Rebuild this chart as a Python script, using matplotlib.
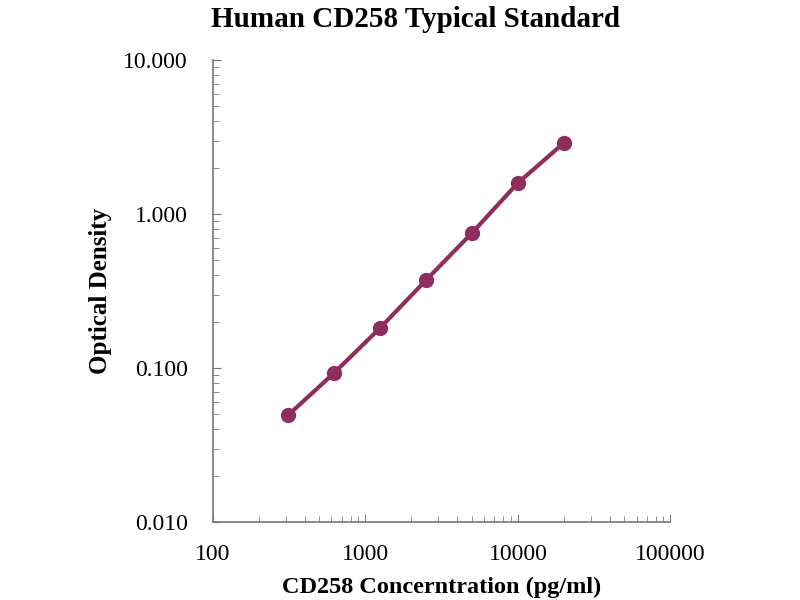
import matplotlib
matplotlib.use("Agg")
import matplotlib.pyplot as plt
from matplotlib.ticker import FixedLocator, FixedFormatter, LogLocator, NullFormatter

plt.rcParams['font.family'] = ['Liberation Serif', 'DejaVu Serif']

# standard curve data
conc = [312.5, 625, 1250, 2500, 5000, 10000, 20000]
od = [0.0495, 0.093, 0.182, 0.372, 0.753, 1.59, 2.89]

x_ticks = [100, 1000, 10000, 100000]
x_labels = ["100", "1000", "10000", "100000"]
y_ticks = [0.01, 0.1, 1, 10]
y_labels = ["0.010", "0.100", "1.000", "10.000"]

col = "#8e2d5e"

fig = plt.figure(figsize=(8, 6), dpi=100)
ax = fig.add_axes([0.266, 0.13, 0.572, 0.77])

ax.plot(conc, od, "-o", color=col, lw=3, ms=10, mec=col, mfc=col)

ax.set_xscale("log")
ax.set_yscale("log")
ax.set_xlim(100, 100000)
ax.set_ylim(0.01, 10)

ax.xaxis.set_major_locator(FixedLocator(x_ticks))
ax.xaxis.set_major_formatter(FixedFormatter(x_labels))
ax.yaxis.set_major_locator(FixedLocator(y_ticks))
ax.yaxis.set_major_formatter(FixedFormatter(y_labels))
ax.xaxis.set_minor_locator(LogLocator(base=10, subs=range(2, 10)))
ax.yaxis.set_minor_locator(LogLocator(base=10, subs=range(2, 10)))
ax.xaxis.set_minor_formatter(NullFormatter())
ax.yaxis.set_minor_formatter(NullFormatter())

for s in ["top", "right"]:
    ax.spines[s].set_visible(False)
for s in ["left", "bottom"]:
    ax.spines[s].set_color("#777777")
    ax.spines[s].set_linewidth(1.2)

ax.tick_params(which="both", direction="in", colors="#777777", labelcolor="black", labelsize=17)
ax.tick_params(which="major", length=6)
ax.tick_params(which="minor", length=4)
ax.tick_params(axis="x", which="major", pad=16)
ax.tick_params(axis="y", which="major", pad=18)

ax.set_title("Human CD258 Typical Standard", fontsize=21, fontweight="bold", pad=24, x=0.444)
ax.set_xlabel("CD258 Concerntration (pg/ml)", fontsize=17.5, fontweight="bold", labelpad=8)
ax.set_ylabel("Optical Density", fontsize=18, fontweight="bold", labelpad=8)

fig.savefig("out.png", dpi=100)
